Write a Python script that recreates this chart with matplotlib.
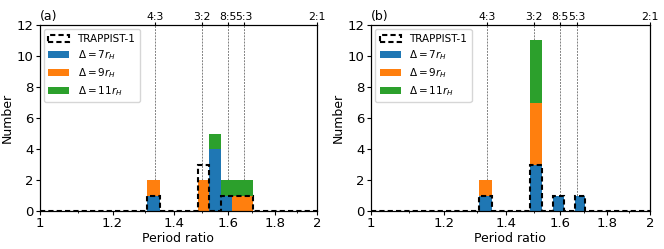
import numpy as np
import matplotlib
matplotlib.use("Agg")
import matplotlib.pyplot as plt
from matplotlib.ticker import FixedLocator, FixedFormatter, NullFormatter, NullLocator

# ---- data ----
bin_edges = [1.0, 1.044, 1.088, 1.132, 1.176, 1.22, 1.264, 1.308, 1.352, 1.396,
             1.44, 1.484, 1.528, 1.572, 1.616, 1.66, 1.704, 1.748, 1.792, 1.836,
             1.88, 1.924, 1.968, 2.0]
ratio_bins = [1.33, 1.506, 1.55, 1.594, 1.638, 1.682]   # centres of occupied bins

a_trappist = [1, 3, 0, 1, 1, 1]
a_d7 = [1, 0, 4, 1, 0, 0]
a_d9 = [1, 2, 0, 0, 1, 1]
a_d11 = [0, 0, 1, 1, 1, 1]

b_trappist = [1, 3, 0, 1, 0, 1]
b_d7 = [1, 3, 0, 1, 0, 1]
b_d9 = [1, 4, 0, 0, 0, 0]
b_d11 = [0, 4, 0, 0, 0, 0]

series_labels = [r"$\Delta = 7r_H$", r"$\Delta = 9r_H$", r"$\Delta = 11r_H$"]
resonances = [4/3, 3/2, 8/5, 5/3, 2.0]
resonance_labels = ["4:3", "3:2", "8:5", "5:3", "2:1"]
xtick_vals = [1.0, 1.2, 1.4, 1.6, 1.8, 2.0]
xtick_labels = ["1", "1.2", "1.4", "1.6", "1.8", "2"]
xminor_vals = [1.1, 1.3, 1.5, 1.7, 1.9]
ytick_vals = [0, 2, 4, 6, 8, 10, 12]
panel_labels = ["(a)", "(b)"]

colors = ["#1f77b4", "#ff7f0e", "#2ca02c"]

fig = plt.figure(figsize=(6.64, 2.49), dpi=100)
positions = [[0.0595, 0.1526, 0.418, 0.747], [0.5587, 0.1526, 0.420, 0.747]]
panels = [(a_trappist, a_d7, a_d9, a_d11), (b_trappist, b_d7, b_d9, b_d11)]

for pos, (trap, d7, d9, d11), plabel in zip(positions, panels, panel_labels):
    ax = fig.add_axes(pos)
    ax.set_xscale("log")
    for r in resonances:
        ax.axvline(r, color="grey", lw=0.7, ls=(0, (2, 1.2)), zorder=1)
    ax.hist([ratio_bins] * 3, bins=bin_edges, weights=[d7, d9, d11],
            stacked=True, color=colors, label=series_labels, zorder=2)
    ax.hist(ratio_bins, bins=bin_edges, weights=trap, histtype="step",
            color="black", lw=1.5, ls=(0, (2.5, 1.5)), label="TRAPPIST-1", zorder=3)
    ax.set_xlim(1, 2)
    ax.set_ylim(0, 12)
    ax.xaxis.set_major_locator(FixedLocator(xtick_vals))
    ax.xaxis.set_major_formatter(FixedFormatter(xtick_labels))
    ax.xaxis.set_minor_locator(FixedLocator(xminor_vals))
    ax.xaxis.set_minor_formatter(NullFormatter())
    ax.set_yticks(ytick_vals)
    ax.tick_params(labelsize=9.5, length=3, pad=1.5)
    ax.tick_params(which="minor", length=1.5)
    ax.set_xlabel("Period ratio", fontsize=9, labelpad=1)
    ax.set_ylabel("Number", fontsize=9, labelpad=2)

    handles, labels = ax.get_legend_handles_labels()
    order = [labels.index("TRAPPIST-1")] + [labels.index(l) for l in series_labels]
    ax.legend([handles[i] for i in order], [labels[i] for i in order],
              loc="upper left", fontsize=7.5, handlelength=2.0, borderpad=0.45,
              labelspacing=0.4, handletextpad=0.8, borderaxespad=0.4)

    top = ax.twiny()
    top.set_xscale("log")
    top.set_xlim(1, 2)
    top.xaxis.set_major_locator(FixedLocator(resonances))
    top.xaxis.set_major_formatter(FixedFormatter(resonance_labels))
    top.xaxis.set_minor_locator(NullLocator())
    top.tick_params(labelsize=7.8, length=2, pad=0.5)

    ax.text(0.0, 1.01, plabel, transform=ax.transAxes, ha="left", va="bottom",
            fontsize=9)

fig.savefig("out.png", dpi=100)
